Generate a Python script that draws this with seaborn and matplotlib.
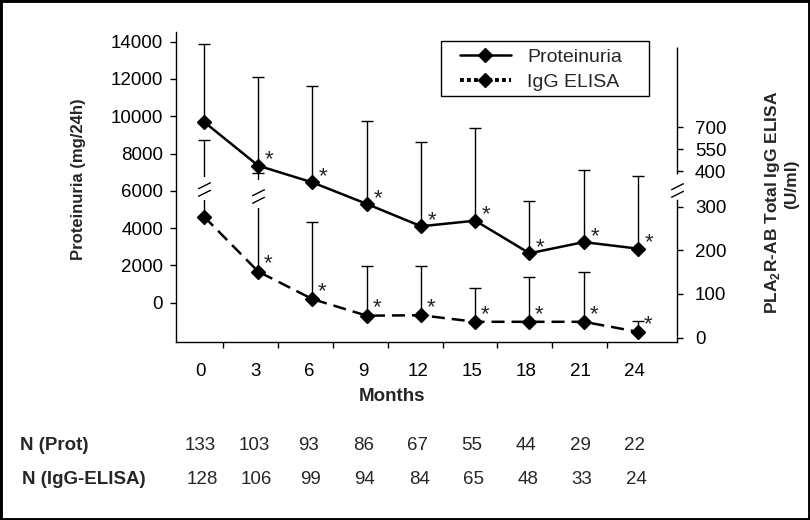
import numpy as np
import pandas as pd
import matplotlib
matplotlib.use("Agg")
import matplotlib.pyplot as plt
import matplotlib.transforms as mtransforms
from matplotlib.path import Path
from matplotlib.lines import Line2D
from matplotlib.patches import Rectangle
import seaborn as sns

# ---------------- data ----------------
months = [0, 3, 6, 9, 12, 15, 18, 21, 24]
prot_mean = [9700, 7350, 6450, 5300, 4100, 4400, 2650, 3250, 2900]
prot_upper = [13900, 12100, 11600, 9750, 8600, 9350, 5450, 7100, 6800]
elisa_mean = [277, 151, 88, 50, 51, 36, 36, 36, 13]
elisa_upper = [613, 395, 265, 164, 164, 114, 139, 151, 38]
prot_sig = [False, True, True, True, True, True, True, True, True]
elisa_sig = [False, True, True, True, True, True, True, True, True]
n_prot = [133, 103, 93, 86, 67, 55, 44, 29, 22]
n_elisa = [128, 106, 99, 94, 84, 65, 48, 33, 24]
left_ticks = [0, 2000, 4000, 6000, 8000, 10000, 12000, 14000]
right_ticks = [0, 100, 200, 300, 400, 550, 700]

# ---------------- style ----------------
sns.set_style("ticks")
plt.rcParams["font.family"] = ["Liberation Sans", "DejaVu Sans"]
plt.rcParams["mathtext.fontset"] = "custom"
plt.rcParams["mathtext.rm"] = "Liberation Sans"
plt.rcParams["mathtext.bf"] = "Liberation Sans:bold"
plt.rcParams["axes.linewidth"] = 1.0

W, H = 810, 520
fig = plt.figure(figsize=(W / 100, H / 100), dpi=100)
ax = fig.add_axes([176 / W, (H - 342) / H, 501 / W, (342 - 31.7) / H])
ax2 = ax.twinx()


# broken right axis: piecewise-linear scale
def fwd(v):
    v = np.asarray(v, dtype=float)
    return np.where(v <= 300, v,
                    np.where(v <= 400, 300 + 0.814 * (v - 300), 381.4 + 0.333 * (v - 400)))


def inv(f):
    f = np.asarray(f, dtype=float)
    return np.where(f <= 300, f,
                    np.where(f <= 381.4, 300 + (f - 300) / 0.814, 400 + (f - 381.4) / 0.333))


ax2.set_yscale("function", functions=(fwd, inv))

df_p = pd.DataFrame({"month": months, "value": prot_mean})
df_e = pd.DataFrame({"month": months, "value": elisa_mean})

LW = 1.8
MS = 6.8
# error bars (upper only)
p_err = np.array(prot_upper) - np.array(prot_mean)
ax.errorbar(months, prot_mean, yerr=[np.zeros(len(months)), p_err], fmt="none",
            ecolor="black", elinewidth=1.0, capsize=4.2, capthick=1.0, zorder=2)
e_err = np.array(elisa_upper) - np.array(elisa_mean)
ax2.errorbar(months, elisa_mean, yerr=[np.zeros(len(months)), e_err], fmt="none",
             ecolor="black", elinewidth=1.0, capsize=4.2, capthick=1.0, zorder=2)

sns.lineplot(data=df_p, x="month", y="value", ax=ax, color="black", linewidth=LW,
             marker="D", markersize=MS, markeredgecolor="black", markeredgewidth=1.0,
             zorder=4)
sns.lineplot(data=df_e, x="month", y="value", ax=ax2, color="black", linewidth=LW,
             linestyle=(0, (5.2, 2.8)), marker="D", markersize=MS,
             markeredgecolor="black", markeredgewidth=1.0, zorder=4)

# break symbol marker
brk = Path([(-1, 0.1), (1, 1.1), (-1, -1.1), (1, -0.1)],
           [Path.MOVETO, Path.LINETO, Path.MOVETO, Path.LINETO])

# breaks on the first two ELISA error bars
for m, lo, hi, c in [(0, 318, 383, 349), (3, 297, 375, 330)]:
    ax2.plot([m, m], [lo, hi], color="white", lw=3, solid_capstyle="butt", zorder=2.5)
    ax2.plot([m], [c], marker=brk, markersize=10, mfc="none", mec="black", mew=1.0,
             linestyle="none", zorder=3)

# asterisks
for m, v, s in zip(months, prot_mean, prot_sig):
    if s:
        ax.annotate("*", (m, v), xytext=(11, 0), textcoords="offset pixels",
                    ha="center", va="baseline", fontsize=16, zorder=5)
for m, v, s in zip(months, elisa_mean, elisa_sig):
    if s:
        ax2.annotate("*", (m, v), xytext=(10, 2), textcoords="offset pixels",
                     ha="center", va="baseline", fontsize=16, zorder=5)

# ---------------- axes ----------------
ax.set_xlim(-1.548, 26.157)
ax.set_ylim(-2108, 14536)
ax2.set_ylim(-10.3, 1358.6)

ax.set_xticks(np.array(months) - 0.17)
ax.set_xticklabels([str(m) for m in months])
ax.set_xticks(np.arange(8) * 3.04 + 1.03, minor=True)
ax.tick_params(axis="x", which="major", length=0, pad=15, labelsize=13.5, colors="black")
ax.tick_params(axis="x", which="minor", length=4.3, width=1.0, direction="out", color="black")

ax.set_yticks(left_ticks)
ax.set_yticklabels([str(t) for t in left_ticks])
ax.tick_params(axis="y", length=4.3, width=1.0, direction="out", pad=5, labelsize=13.5,
               colors="black")
ax.yaxis.set_minor_locator(matplotlib.ticker.NullLocator())

ax2.set_yticks(right_ticks)
ax2.set_yticklabels([str(t) for t in right_ticks])
ax2.yaxis.set_minor_locator(matplotlib.ticker.NullLocator())
ax2.tick_params(axis="y", length=4.0, width=1.0, direction="out", pad=9, labelsize=13.5,
                colors="black")

ax.set_xlabel("")
ax.set_ylabel("")
ax2.set_ylabel("")
for a in (ax, ax2):
    for sp in a.spines.values():
        sp.set_color("black")
        sp.set_linewidth(1.0)
ax.spines["top"].set_visible(False)
ax.spines["right"].set_visible(False)
ax2.spines["top"].set_visible(False)
ax2.spines["left"].set_visible(False)
ax2.spines["bottom"].set_visible(False)
ax2.spines["right"].set_bounds(-10.3, 318)
trans_r = mtransforms.blended_transform_factory(ax2.transAxes, ax2.transData)
ax2.plot([1, 1], [391.6, 1253], color="black", lw=1.0, transform=trans_r, clip_on=False,
         solid_capstyle="butt")
ax2.plot([1], [347], marker=brk, markersize=10, mfc="none", mec="black", mew=1.0,
         linestyle="none", transform=trans_r, clip_on=False)

# ---------------- labels ----------------
fig.text(78 / W, 1 - 179 / H, "Proteinuria (mg/24h)", rotation=90, ha="center",
         va="center", fontsize=12, fontweight="bold")
fig.text(772 / W, 1 - 202 / H, r"PLA$_\mathbf{2}$R-AB Total IgG ELISA", rotation=90,
         ha="center", va="center", fontsize=12.5, fontweight="bold")
fig.text(792 / W, 1 - 184 / H, "(U/ml)", rotation=90, ha="center", va="center",
         fontsize=12.5, fontweight="bold")
fig.text(392 / W, 1 - 396.7 / H, "Months", ha="center", va="center", fontsize=13.5,
         fontweight="bold")

fig.text(20 / W, 1 - 445 / H, "N (Prot)", ha="left", va="center", fontsize=13.5,
         fontweight="bold")
fig.text(22 / W, 1 - 480 / H, "N (IgG-ELISA)", ha="left", va="center", fontsize=13.5,
         fontweight="bold")
trans_n = mtransforms.blended_transform_factory(ax.transData, fig.transFigure)
for m, n in zip(months, n_prot):
    ax.text(m - 0.2, 1 - 445 / H, str(n), transform=trans_n, ha="center", va="center",
            fontsize=13.5, clip_on=False)
for m, n in zip(months, n_elisa):
    ax.text(m - 0.1, 1 - 480 / H, str(n), transform=trans_n, ha="center", va="center",
            fontsize=13.5, clip_on=False)

# ---------------- legend ----------------
h1 = Line2D([], [], color="black", lw=LW, marker="D", markersize=MS, mec="black")
h2 = Line2D([], [], color="black", lw=2.8, linestyle=(0, (1, 0.8)), dash_capstyle="butt",
            marker="D", markersize=MS, mec="black")
fig.legend([h1, h2], ["Proteinuria", "IgG ELISA"], loc="upper left",
           bbox_to_anchor=(460 / W, 1 - 48.5 / H), frameon=False, borderpad=0,
           borderaxespad=0, handlelength=2.6, handletextpad=0.85, labelspacing=0.38,
           fontsize=14)
fig.add_artist(Rectangle((440.7 / W, 1 - 96 / H), (649.3 - 440.7) / W, (96 - 40.7) / H,
                         transform=fig.transFigure, fill=False, ec="black", lw=1.0))

# outer frame
fig.add_artist(Rectangle((0, 0), 1, 1, transform=fig.transFigure, fill=False,
                         ec="black", lw=3.5))

fig.savefig("out.png", dpi=100)
